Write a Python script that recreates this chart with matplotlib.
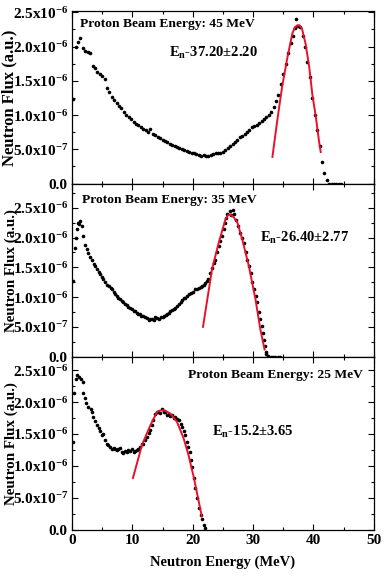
import numpy as np
import matplotlib.pyplot as plt
from matplotlib.ticker import MultipleLocator, FixedLocator

plt.rcParams['font.family'] = ['Liberation Serif', 'DejaVu Serif']
plt.rcParams['font.weight'] = 'bold'
plt.rcParams['mathtext.fontset'] = 'custom'
plt.rcParams['mathtext.rm'] = 'Liberation Serif:bold'
plt.rcParams['mathtext.it'] = 'Liberation Serif:italic:bold'
plt.rcParams['mathtext.bf'] = 'Liberation Serif:bold'

# flux values are in units of 1e-6 (a.u.)
# 45 MeV proton beam
e45 = [0.2, 0.6, 1.0, 1.4, 1.8, 2.2, 2.6, 3.0, 3.4, 3.8, 4.2, 4.6, 5.0, 5.4, 5.8, 6.2, 6.6, 7.0, 7.4, 7.8,
       8.2, 8.6, 9.0, 9.4, 9.8, 10.2, 10.6, 11.0, 11.4, 11.8, 12.2, 12.6, 13.0, 13.4, 13.8, 14.2, 14.6, 15.0,
       15.4, 15.8, 16.2, 16.6, 17.0, 17.4, 17.8, 18.2, 18.6, 19.0, 19.4, 19.8, 20.2, 20.6, 21.0, 21.4, 21.8,
       22.2, 22.6, 23.0, 23.4, 23.8, 24.2, 24.6, 25.0, 25.4, 25.8, 26.2, 26.6, 27.0, 27.4, 27.8, 28.2, 28.6,
       29.0, 29.4, 29.8, 30.2, 30.6, 31.0, 31.4, 31.8, 32.2, 32.6, 33.0, 33.4, 33.8, 34.2, 34.6, 35.0, 35.4,
       35.8, 36.2, 36.6, 37.0, 37.1, 37.4, 37.8, 38.2, 38.6, 39.0, 39.4, 39.8, 40.2, 40.6, 41.0, 41.4, 41.8,
       42.2, 42.6, 43.0, 43.4, 43.8, 44.2, 44.6]
f45 = [1.24, 2.00, 2.07, 2.12, 1.98, 1.94, 1.92, 1.90, 1.72, 1.68, 1.63, 1.60, 1.57, 1.52, 1.40, 1.33, 1.27,
       1.22, 1.18, 1.13, 1.10, 1.05, 1.00, 0.97, 0.94, 0.90, 0.87, 0.85, 0.82, 0.80, 0.78, 0.76, 0.80, 0.73,
       0.71, 0.68, 0.66, 0.64, 0.62, 0.60, 0.58, 0.57, 0.55, 0.53, 0.52, 0.50, 0.49, 0.47, 0.46, 0.45, 0.44,
       0.43, 0.42, 0.41, 0.42, 0.40, 0.41, 0.42, 0.43, 0.44, 0.44, 0.45, 0.46, 0.49, 0.52, 0.55, 0.58, 0.60,
       0.64, 0.68, 0.70, 0.73, 0.75, 0.78, 0.82, 0.84, 0.86, 0.88, 0.91, 0.94, 0.97, 1.00, 1.05, 1.12, 1.20,
       1.30, 1.45, 1.60, 1.75, 1.90, 2.05, 2.15, 2.27, 2.40, 2.30, 2.28, 2.15, 2.00, 1.78, 1.55, 1.25, 1.00,
       0.78, 0.55, 0.32, 0.16, 0.05, 0.00, 0.00, 0.00, 0.00, 0.00, 0.00]
fit_e45 = [33.2, 34.0, 34.8, 35.7, 36.5, 36.9, 37.3, 37.7, 38.1, 38.7, 39.3, 39.8, 40.4, 40.9, 41.2]
fit_f45 = [0.39, 0.92, 1.41, 1.85, 2.19, 2.28, 2.31, 2.31, 2.26, 2.04, 1.70, 1.31, 0.97, 0.63, 0.46]

# 35 MeV proton beam
e35 = [0.2, 0.5, 0.7, 0.9, 1.05, 1.2, 1.4, 1.6, 1.9, 2.2, 2.5, 2.7, 3.0, 3.3, 3.6, 3.8, 4.1, 4.4, 4.65, 4.9,
       5.2, 5.5, 5.8, 6.1, 6.4, 6.6, 6.9, 7.2, 7.4, 7.7, 8.0, 8.3, 8.5, 8.8, 9.1, 9.3, 9.6, 9.9, 10.2, 10.4,
       10.7, 11.0, 11.3, 11.5, 11.8, 12.1, 12.4, 12.7, 13.0, 13.3, 13.6, 13.8, 14.1, 14.4, 14.7, 15.0, 15.2,
       15.5, 15.8, 16.0, 16.3, 16.6, 16.9, 17.1, 17.4, 17.7, 18.0, 18.3, 18.5, 18.8, 19.1, 19.4, 19.7, 20.0,
       20.4, 20.7, 21.0, 21.3, 21.6, 21.9, 22.1, 22.4, 22.6, 22.9, 23.2, 23.5, 23.75, 24.0, 24.3, 24.6, 24.9,
       25.1, 25.3, 25.5, 25.7, 26.1, 26.3, 26.6, 26.9, 27.1, 27.5, 27.9, 28.2, 28.5, 28.8, 29.0, 29.3, 29.6,
       29.9, 30.1, 30.4, 30.7, 31.0, 31.2, 31.4, 31.6, 31.8, 31.9, 32.1, 32.2, 32.5, 32.9, 33.3, 33.7, 34.1,
       34.5]
f35 = [1.27, 1.83, 2.00, 2.14, 2.25, 2.22, 2.28, 2.20, 2.03, 1.88, 1.80, 1.74, 1.68, 1.63, 1.56, 1.52, 1.47,
       1.42, 1.38, 1.34, 1.30, 1.26, 1.21, 1.19, 1.15, 1.13, 1.08, 1.05, 1.02, 0.98, 0.96, 0.93, 0.91, 0.88,
       0.86, 0.84, 0.82, 0.80, 0.77, 0.76, 0.74, 0.72, 0.71, 0.69, 0.68, 0.66, 0.65, 0.62, 0.63, 0.64, 0.61,
       0.66, 0.65, 0.64, 0.67, 0.66, 0.68, 0.70, 0.72, 0.74, 0.77, 0.79, 0.80, 0.82, 0.85, 0.88, 0.92, 0.95,
       0.98, 0.99, 1.02, 1.05, 1.07, 1.09, 1.13, 1.14, 1.16, 1.17, 1.19, 1.21, 1.24, 1.27, 1.30, 1.40, 1.49,
       1.57, 1.63, 1.75, 1.86, 1.95, 2.02, 2.15, 2.25, 2.32, 2.39, 2.44, 2.37, 2.47, 2.40, 2.30, 2.19, 2.08,
       2.00, 1.91, 1.75, 1.63, 1.52, 1.41, 1.25, 1.13, 1.02, 0.91, 0.75, 0.63, 0.52, 0.40, 0.28, 0.18, 0.08,
       0.04, 0.01, 0.00, 0.00, 0.00, 0.00, 0.00]
fit_e35 = [21.7, 23.2, 24.3, 25.4, 25.8, 26.2, 26.8, 27.4, 28.2, 29.3, 30.4, 31.2, 31.9]
fit_f35 = [0.50, 1.47, 1.91, 2.30, 2.37, 2.39, 2.34, 2.25, 1.97, 1.52, 0.96, 0.46, 0.12]

# 25 MeV proton beam
e25 = [0.2, 0.35, 0.65, 0.9, 1.2, 1.5, 1.8, 1.9, 2.2, 2.4, 2.7, 3.1, 3.3, 3.5, 3.8, 4.1, 4.4, 4.65, 4.9, 5.2,
       5.5, 5.8, 6.0, 6.3, 6.6, 6.9, 7.2, 7.4, 7.7, 8.0, 8.3, 8.5, 8.8, 9.1, 9.3, 9.6, 9.9, 10.2, 10.4, 10.7,
       11.0, 11.3, 11.6, 11.8, 12.1, 12.4, 12.7, 13.0, 13.2, 13.5, 13.8, 14.1, 14.3, 14.6, 14.9, 15.2, 15.4,
       15.7, 16.0, 16.3, 16.6, 16.9, 17.1, 17.4, 17.7, 18.0, 18.2, 18.5, 18.8, 19.0, 19.3, 19.5, 19.7, 19.9,
       20.2, 20.4, 20.7, 21.0, 21.3, 21.5, 21.8, 22.1]
f25 = [1.38, 2.14, 2.37, 2.42, 2.40, 2.37, 2.32, 2.14, 2.06, 1.98, 1.93, 1.90, 1.85, 1.77, 1.70, 1.64, 1.59,
       1.54, 1.48, 1.50, 1.41, 1.35, 1.33, 1.30, 1.26, 1.28, 1.27, 1.25, 1.27, 1.28, 1.22, 1.20, 1.24, 1.22,
       1.25, 1.23, 1.26, 1.22, 1.24, 1.25, 1.27, 1.30, 1.34, 1.35, 1.40, 1.46, 1.51, 1.56, 1.64, 1.72, 1.82,
       1.85, 1.85, 1.83, 1.90, 1.84, 1.85, 1.80, 1.82, 1.79, 1.80, 1.75, 1.77, 1.74, 1.72, 1.66, 1.61, 1.55,
       1.48, 1.38, 1.30, 1.22, 1.10, 0.99, 0.81, 0.65, 0.50, 0.34, 0.23, 0.16, 0.08, 0.03]
fit_e25 = [10.1, 11.6, 13.0, 14.1, 14.6, 15.4, 16.3, 17.4, 18.5, 19.3, 20.2, 21.0, 21.5]
fit_f25 = [0.81, 1.33, 1.64, 1.85, 1.87, 1.87, 1.82, 1.69, 1.43, 1.17, 0.81, 0.44, 0.21]

titles = ['Proton Beam Energy: 45 MeV', 'Proton Beam Energy: 35 MeV', 'Proton Beam Energy: 25 MeV']
en_labels = [r'E$_{\rm n}$-37.20±2.20', r'E$_{\rm n}$-26.40±2.77', r'E$_{\rm n}$-15.2±3.65']
ytick_vals = [0.0, 0.5e-6, 1.0e-6, 1.5e-6, 2.0e-6, 2.5e-6]
ytick_labels = ['0.0', r'5.0x10$^{-7}$', r'1.0x10$^{-6}$', r'1.5x10$^{-6}$', r'2.0x10$^{-6}$', r'2.5x10$^{-6}$']

data = [(e45, f45, fit_e45, fit_f45), (e35, f35, fit_e35, fit_f35), (e25, f25, fit_e25, fit_f25)]
ytops = [2.52e-6, 2.9e-6, 2.71e-6]
title_pos = [(0.026, 0.925), (0.033, 0.907), (0.384, 0.896)]
en_pos = [(0.321, 0.757), (0.623, 0.688), (0.464, 0.566)]
ylab_size = [12, 10.8, 10.8]

fig = plt.figure(figsize=(3.87, 5.76), dpi=100)
fig.subplots_adjust(left=0.186, right=0.966, top=0.981, bottom=0.080, hspace=0)
axes = fig.subplots(3, 1, sharex=True)

for i, ax in enumerate(axes):
    e, f, fe, ff = data[i]
    ax.plot(e, np.array(f) * 1e-6, 'o', color='black', ms=2.6, mew=0, zorder=2)
    ax.plot(fe, np.array(ff) * 1e-6, color='#e8112d', lw=1.4, zorder=3)
    ax.set_xlim(0, 50)
    ax.set_ylim(-0.005e-6, ytops[i])
    ax.xaxis.set_major_locator(MultipleLocator(10))
    ax.xaxis.set_minor_locator(MultipleLocator(5))
    ax.yaxis.set_major_locator(FixedLocator(ytick_vals))
    ax.yaxis.set_minor_locator(MultipleLocator(0.25e-6))
    ax.set_yticklabels(ytick_labels)
    ax.tick_params(which='both', direction='in', top=True, right=True, labelsize=11, width=0.8, pad=3)
    ax.tick_params(which='major', length=4)
    ax.tick_params(which='minor', length=2)
    ax.set_ylabel('Neutron Flux (a.u.)', fontsize=ylab_size[i], fontweight='bold')
    ax.yaxis.set_label_coords(-0.18, 0.5)
    ax.text(title_pos[i][0], title_pos[i][1], titles[i], transform=ax.transAxes,
            fontsize=9.7, fontweight='bold', va='center', ha='left')
    ax.text(en_pos[i][0], en_pos[i][1], en_labels[i], transform=ax.transAxes,
            fontsize=10.5, fontweight='bold', va='center', ha='left')
    for s in ax.spines.values():
        s.set_linewidth(0.9)

axes[2].set_xlabel('Neutron Energy (MeV)', fontsize=10.5, fontweight='bold', labelpad=6)

plt.savefig('out.png', dpi=100)
